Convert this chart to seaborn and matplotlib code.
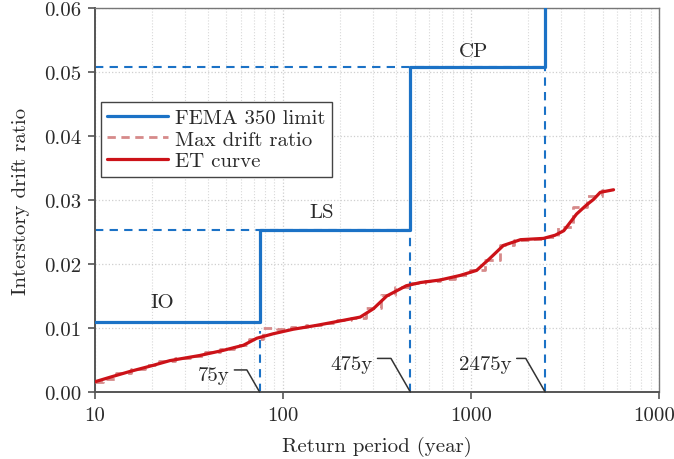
import numpy as np
import pandas as pd
import matplotlib
matplotlib.use("Agg")
import matplotlib.pyplot as plt
import seaborn as sns
from matplotlib.ticker import FixedLocator, FuncFormatter, LogLocator, NullFormatter

# ---------------- data ----------------
event_periods = [75, 475, 2475]            # return periods of the hazard levels (years)
fema_limits = [0.011, 0.0253, 0.0508]      # FEMA 350 drift limits (IO, LS, CP)
level_names = ["IO", "LS", "CP"]
event_labels = ["75y", "475y", "2475y"]

et_period = [10, 12, 15.3, 20, 25, 36, 48, 61.5, 72.5, 88.7, 113, 150, 185, 257, 302,
             356, 452, 537, 684, 870, 1070, 1250, 1485, 1830, 2425, 2800, 3110, 3635,
             4100, 4480, 4860, 5720]
et_drift = [0.0016, 0.0023, 0.0032, 0.0041, 0.0049, 0.0057, 0.0065, 0.0073, 0.0084,
            0.0091, 0.0098, 0.0104, 0.0109, 0.0117, 0.0130, 0.0150, 0.0166, 0.0171,
            0.0175, 0.0182, 0.0190, 0.0208, 0.0229, 0.0238, 0.0240, 0.0245, 0.0252,
            0.0278, 0.0292, 0.0301, 0.0312, 0.0316]

max_period = [10, 12, 14, 17, 20, 24, 29, 35, 42, 50, 60, 72, 85, 100, 120, 145, 175,
              210, 250, 300, 360, 430, 520, 620, 750, 900, 1080, 1300, 1550, 1850,
              2200, 2650, 3150, 3800, 4500, 5400]
max_drift = [0.0016, 0.0021, 0.0029, 0.0036, 0.0042, 0.0048, 0.0053, 0.0057, 0.0062,
             0.0067, 0.0073, 0.0083, 0.0100, 0.0099, 0.0101, 0.0104, 0.0108, 0.0112,
             0.0115, 0.0131, 0.0151, 0.0164, 0.0170, 0.0173, 0.0177, 0.0183, 0.0190,
             0.0207, 0.0230, 0.0238, 0.0239, 0.0242, 0.0258, 0.0289, 0.0306, 0.0315]

x_ticks = [10, 100, 1000, 10000]
y_ticks = [0.00, 0.01, 0.02, 0.03, 0.04, 0.05, 0.06]

# ---------------- style ----------------
sns.set_style("ticks")
plt.rcParams["font.family"] = ["cmr10", "DejaVu Serif"]
plt.rcParams["axes.formatter.use_mathtext"] = True
plt.rcParams["mathtext.fontset"] = "cm"
FS = 15

BLUE = "#1b72c6"
RED = "#cc1218"
PINK = "#d68a8a"
TXT = "#2a2a2a"

fig = plt.figure(figsize=(6.74, 4.60), dpi=100)
ax = fig.add_axes([0.141, 0.1457, 0.837, 0.8347])

# FEMA step line
step_x = [x_ticks[0]]
step_y = [fema_limits[0]]
for i, p in enumerate(event_periods):
    step_x += [p, p]
    step_y += [fema_limits[i], fema_limits[i + 1] if i + 1 < len(fema_limits) else y_ticks[-1]]
fema_df = pd.DataFrame({"T": step_x, "d": step_y})

# dashed reference lines
DASH = (0, (4, 3))
for i, p in enumerate(event_periods):
    if i == 0:
        top = float(np.interp(np.log10(p), np.log10(et_period), et_drift)) + 0.001
    else:
        top = fema_limits[i]
    ax.plot([p, p], [0, top], color=BLUE, lw=1.5, ls=DASH, zorder=2)
for lim, p in zip(fema_limits[1:], event_periods[1:]):
    ax.plot([x_ticks[0], p], [lim, lim], color=BLUE, lw=1.5, ls=DASH, zorder=2)

max_df = pd.DataFrame({"T": max_period, "d": max_drift})
et_df = pd.DataFrame({"T": et_period, "d": et_drift})

sns.lineplot(data=fema_df, x="T", y="d", ax=ax, color=BLUE, lw=2.3, sort=False,
             estimator=None, label="FEMA 350 limit", zorder=4)
sns.lineplot(data=max_df, x="T", y="d", ax=ax, color=PINK, lw=2.0, sort=False,
             estimator=None, drawstyle="steps-mid",
             label="Max drift ratio", zorder=3)
ax.lines[-1].set_linestyle((0, (3, 2)))
sns.lineplot(data=et_df, x="T", y="d", ax=ax, color=RED, lw=2.3, sort=False,
             estimator=None, label="ET curve", zorder=5)

ax.set_xscale("log")
ax.set_xlim(x_ticks[0], x_ticks[-1])
ax.set_ylim(y_ticks[0], y_ticks[-1])
ax.xaxis.set_major_locator(FixedLocator(x_ticks))
ax.xaxis.set_major_formatter(FuncFormatter(lambda v, pos: f"{int(round(v))}"))
ax.xaxis.set_minor_locator(LogLocator(base=10, subs=np.arange(2, 10)))
ax.xaxis.set_minor_formatter(NullFormatter())
ax.yaxis.set_major_locator(FixedLocator(y_ticks))
ax.yaxis.set_major_formatter(FuncFormatter(lambda v, pos: f"{v:.2f}"))

ax.grid(which="major", color="#cfcfcf", ls=":", lw=0.9)
ax.grid(which="minor", axis="x", color="#d8d8d8", ls=":", lw=0.8)
ax.tick_params(which="major", direction="out", length=5, width=1.2, color="#555555",
               labelsize=FS, labelcolor=TXT, pad=5)
ax.tick_params(which="minor", length=0)
for side in ["left", "bottom"]:
    ax.spines[side].set_color("#555555")
    ax.spines[side].set_linewidth(1.4)
for side in ["top", "right"]:
    ax.spines[side].set_color("#777777")
    ax.spines[side].set_linewidth(1.0)

ax.set_xlabel("Return period (year)", fontsize=FS, color=TXT, labelpad=9)
ax.set_ylabel("Interstory drift ratio", fontsize=FS, color=TXT, labelpad=10)

# level names
name_pos = [(22.7, 0.0141), (161, 0.0281), (1025, 0.0533)]
for name, (xx, yy) in zip(level_names, name_pos):
    ax.text(xx, yy, name, fontsize=FS, ha="center", va="center", color=TXT)

# event annotations
text_pos = [(52, 0.0026), (300, 0.0044), (1650, 0.0044)]
for lab, p, (xx, yy) in zip(event_labels, event_periods, text_pos):
    ax.annotate(lab, xy=(p, 0), xytext=(xx, yy), textcoords="data",
                fontsize=FS, ha="right", va="center", color=TXT,
                arrowprops=dict(arrowstyle="-", color="#333333", lw=1.1,
                                shrinkA=1, shrinkB=0,
                                relpos=(1.0, 0.8),
                                connectionstyle="angle,angleA=0,angleB=120"),
                zorder=6)

leg = ax.legend(loc="upper left", bbox_to_anchor=(0.011, 0.755), fontsize=FS,
                frameon=True, fancybox=False, handlelength=2.9, handletextpad=0.35,
                borderpad=0.3, labelspacing=0.15, borderaxespad=0)
leg.get_frame().set_edgecolor("#444444")
leg.get_frame().set_linewidth(1.0)
leg.get_frame().set_alpha(1)
for t in leg.get_texts():
    t.set_color(TXT)

fig.savefig("out.png", dpi=100)
